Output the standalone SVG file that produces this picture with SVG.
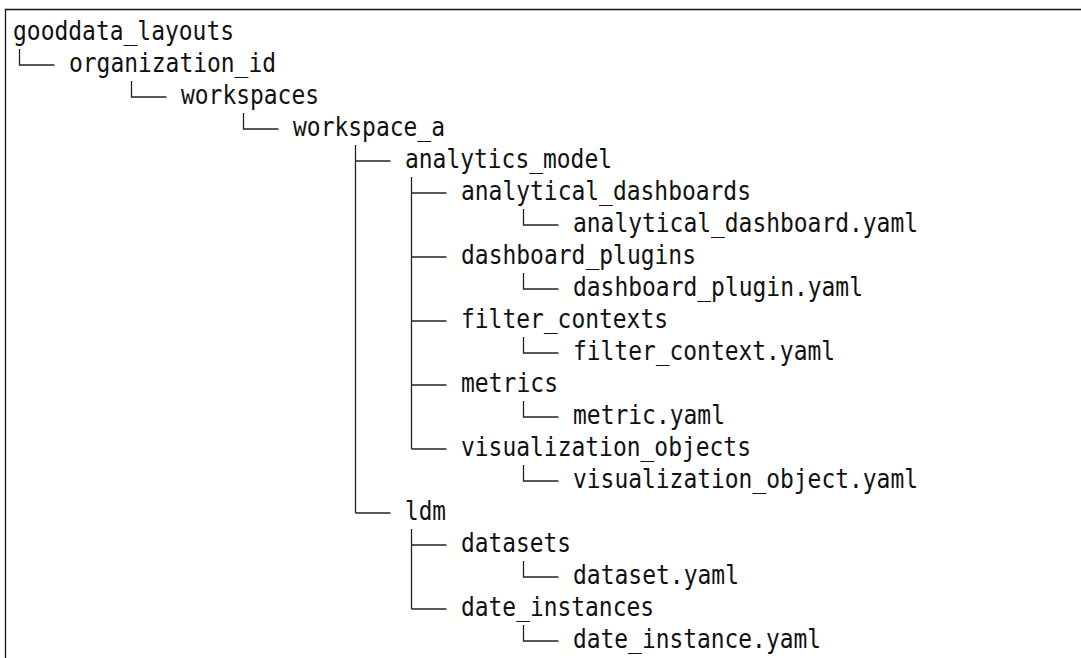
<svg xmlns="http://www.w3.org/2000/svg" width="1081" height="658" viewBox="0 0 1081 658">
  <style>
    .frame { fill: none; stroke: #111; stroke-width: 1.3; }
    .tree { fill: none; stroke: #222; stroke-width: 1.3; }
    .label { font-family: "DejaVu Sans Mono", "Liberation Mono", monospace; font-size: 26px; fill: #111; }
  </style>
  <rect width="1081" height="658" fill="#fff"/>
  <!-- code block border, open at right and bottom -->
  <path class="frame" d="M5.5,658 V9.5 H1081"/>

  <!-- tree connectors: vertical x = 19.5 + 14*col, rows every 32px from y=33 -->
  <g id="connectors" class="tree">
    <path d="M19.5,49 V65 H54.5"/>
    <path d="M131.5,81 V97 H166.5"/>
    <path d="M243.5,113 V129 H278.5"/>
    <!-- workspace_a children -->
    <path d="M355.5,145 V513"/>
    <path d="M355.5,161 H390.5"/>
    <path d="M355.5,513 H390.5"/>
    <!-- analytics_model children -->
    <path d="M411.5,177 V449"/>
    <path d="M411.5,193 H446.5"/>
    <path d="M411.5,257 H446.5"/>
    <path d="M411.5,321 H446.5"/>
    <path d="M411.5,385 H446.5"/>
    <path d="M411.5,449 H446.5"/>
    <!-- ldm children -->
    <path d="M411.5,529 V609"/>
    <path d="M411.5,545 H446.5"/>
    <path d="M411.5,609 H446.5"/>
    <!-- file leaves -->
    <path d="M523.5,209 V225 H558.5"/>
    <path d="M523.5,273 V289 H558.5"/>
    <path d="M523.5,337 V353 H558.5"/>
    <path d="M523.5,401 V417 H558.5"/>
    <path d="M523.5,465 V481 H558.5"/>
    <path d="M523.5,561 V577 H558.5"/>
    <path d="M523.5,625 V641 H558.5"/>
  </g>

  <g id="gooddata_layouts"><text class="label" x="13" y="40" textLength="221" lengthAdjust="spacingAndGlyphs">gooddata_layouts</text></g>
  <g id="organization_id"><text class="label" x="69" y="72" textLength="207" lengthAdjust="spacingAndGlyphs">organization_id</text></g>
  <g id="workspaces"><text class="label" x="181" y="104" textLength="138" lengthAdjust="spacingAndGlyphs">workspaces</text></g>
  <g id="workspace_a"><text class="label" x="293" y="136" textLength="152" lengthAdjust="spacingAndGlyphs">workspace_a</text></g>
  <g id="analytics_model"><text class="label" x="405" y="168" textLength="207" lengthAdjust="spacingAndGlyphs">analytics_model</text></g>
  <g id="analytical_dashboards"><text class="label" x="461" y="200" textLength="290" lengthAdjust="spacingAndGlyphs">analytical_dashboards</text></g>
  <g id="analytical_dashboard_yaml"><text class="label" x="573" y="232" textLength="345" lengthAdjust="spacingAndGlyphs">analytical_dashboard.yaml</text></g>
  <g id="dashboard_plugins"><text class="label" x="461" y="264" textLength="235" lengthAdjust="spacingAndGlyphs">dashboard_plugins</text></g>
  <g id="dashboard_plugin_yaml"><text class="label" x="573" y="296" textLength="290" lengthAdjust="spacingAndGlyphs">dashboard_plugin.yaml</text></g>
  <g id="filter_contexts"><text class="label" x="461" y="328" textLength="207" lengthAdjust="spacingAndGlyphs">filter_contexts</text></g>
  <g id="filter_context_yaml"><text class="label" x="573" y="360" textLength="262" lengthAdjust="spacingAndGlyphs">filter_context.yaml</text></g>
  <g id="metrics"><text class="label" x="461" y="392" textLength="97" lengthAdjust="spacingAndGlyphs">metrics</text></g>
  <g id="metric_yaml"><text class="label" x="573" y="424" textLength="152" lengthAdjust="spacingAndGlyphs">metric.yaml</text></g>
  <g id="visualization_objects"><text class="label" x="461" y="456" textLength="290" lengthAdjust="spacingAndGlyphs">visualization_objects</text></g>
  <g id="visualization_object_yaml"><text class="label" x="573" y="488" textLength="345" lengthAdjust="spacingAndGlyphs">visualization_object.yaml</text></g>
  <g id="ldm"><text class="label" x="405" y="520" textLength="41" lengthAdjust="spacingAndGlyphs">ldm</text></g>
  <g id="datasets"><text class="label" x="461" y="552" textLength="110" lengthAdjust="spacingAndGlyphs">datasets</text></g>
  <g id="dataset_yaml"><text class="label" x="573" y="584" textLength="166" lengthAdjust="spacingAndGlyphs">dataset.yaml</text></g>
  <g id="date_instances"><text class="label" x="461" y="616" textLength="193" lengthAdjust="spacingAndGlyphs">date_instances</text></g>
  <g id="date_instance_yaml"><text class="label" x="573" y="648" textLength="248" lengthAdjust="spacingAndGlyphs">date_instance.yaml</text></g>
</svg>
